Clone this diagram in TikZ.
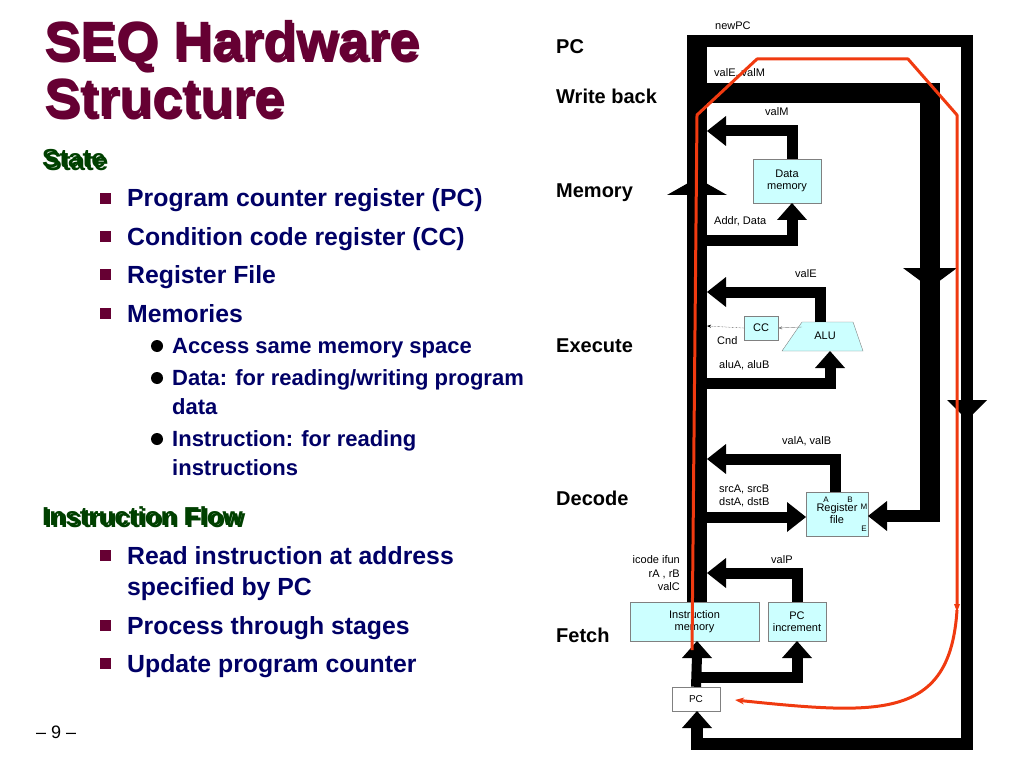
\documentclass[tikz,border=0pt]{standalone}
\usepackage{fontspec}
\setmainfont{Liberation Sans}
\usepackage{tikz}
\usetikzlibrary{arrows.meta}
\definecolor{maroon}{HTML}{660033}
\definecolor{stategreen}{HTML}{004000}
\definecolor{itemblue}{HTML}{000066}
\definecolor{boxcyan}{HTML}{CCFFFF}
\definecolor{flowred}{HTML}{F03A10}
\tikzset{
  bus/.style={line width=11, miter limit=10},
  box/.style={draw=gray, fill=boxcyan, inner sep=0pt, align=center, font=\fontsize{11}{12}\selectfont},
  sig/.style={font=\fontsize{11}{12}\selectfont, inner sep=0pt, anchor=base west},
  stage/.style={font=\fontsize{20}{22}\selectfont\bfseries, inner sep=0pt, anchor=base west},
  item/.style={font=\fontsize{24.8}{26}\selectfont\bfseries, text=itemblue, inner sep=0pt, anchor=base west},
  subitem/.style={font=\fontsize{22}{24}\selectfont\bfseries, text=itemblue, inner sep=0pt, anchor=base west},
}
\newcommand{\headL}[2]{\fill (#1,#2) -- ++(19,-15) -- ++(0,30) -- cycle;}
\newcommand{\headR}[2]{\fill (#1,#2) -- ++(-19,-15) -- ++(0,30) -- cycle;}
\newcommand{\headU}[3]{\fill (#1,#2) -- ++(-#3,17) -- ++(2*#3,0) -- cycle;}
\newcommand{\headD}[3]{\fill (#1,#2) -- ++(-#3,-20) -- ++(2*#3,0) -- cycle;}
\newcommand{\shadowed}[4]{%
  \node[anchor=base west, inner sep=0pt, text=gray!45, font=#2] at (#3+2.5,#4+2.5) {#1};
  \node[anchor=base west, inner sep=0pt, font=#2] at (#3,#4) {#1};}

\begin{document}
\begin{tikzpicture}[x=1pt, y=-1pt]
  \useasboundingbox (0,0) rectangle (1024,767);

  % left column: title and bullet list
  \shadowed{\color{maroon}SEQ Hardware}{\fontsize{54}{54}\selectfont\bfseries}{44}{60}
  \shadowed{\color{maroon}Structure}{\fontsize{54}{54}\selectfont\bfseries}{44}{117}
  \shadowed{\color{stategreen}State}{\fontsize{26}{28}\selectfont\bfseries}{42}{168}
  \shadowed{\color{stategreen}Instruction Flow}{\fontsize{26}{28}\selectfont\bfseries}{42}{525}
  \foreach \y/\t in {207/Program counter register (PC), 245/Condition code register (CC),
                     283/Register File, 322/Memories, 564/Read instruction at address,
                     634/Process through stages, 672/Update program counter} {
    \fill[maroon] (100,\y-14) rectangle ++(11,11);
    \node[item] at (127,\y) {\t};
  }
  \node[item] at (127,595) {specified by PC};
  \foreach \y/\t in {353/{Access same memory space}, 385/{Data: for reading/writing program},
                     446/{Instruction: for reading}} {
    \fill[black] (157,\y-7) circle (6);
    \node[subitem] at (172,\y) {\t};
  }
  \node[subitem] at (172,414) {data};
  \node[subitem] at (172,475) {instructions};
  \node[anchor=base west, inner sep=0pt, font=\fontsize{18}{20}\selectfont] (page) at (36,738) {-- 9 --};

  % stage names
  \node[stage] (sPC) at (556,54) {PC};
  \node[stage] (sWB) at (556,104) {Write back};
  \node[stage] (sMem) at (556,198) {Memory};
  \node[stage] (sEx) at (556,352) {Execute};
  \node[stage] (sDec) at (556,505) {Decode};
  \node[stage] (sFe) at (556,642) {Fetch};

  % units
  \node[box, minimum width=68, minimum height=44] (dmem) at (787,181) {Data\\memory};
  \node[box, minimum width=34, minimum height=24] (cc) at (761,328) {CC};
  \draw[gray, fill=boxcyan] (802,322) -- (853,322) -- (863,351) -- (782,351) -- cycle;
  \node[font=\fontsize{11}{12}\selectfont] (alu) at (825,336) {ALU};
  \node[box, minimum width=62, minimum height=44] (regf) at (837,514) {Register\\file};
  \node[box, minimum width=129, minimum height=39] (imem) at (694.5,621.5) {Instruction\\memory};
  \node[box, minimum width=58, minimum height=39] (pcinc) at (797,621.5) {PC\\increment};
  \node[draw=gray, fill=white, minimum width=48, minimum height=24, inner sep=0pt, font=\fontsize{10}{12}\selectfont] (pc) at (696,699) {PC};
  \foreach \p/\l in {{(826,500)}/A, {(850,500)}/B, {(864,507)}/M, {(864,529)}/E}
    \node[font=\fontsize{8}{9}\selectfont, inner sep=0pt] at \p {\l};

  % buses
  \draw[line width=20] (697,35) -- (697,602);
  \draw[line width=12, miter limit=10] (697,41) -- (967,41) -- (967,744) -- (697,744) -- (697,728);
  \draw[line width=20, miter limit=10] (707,93) -- (930,93) -- (930,522);
  \draw[line width=12] (936,516) -- (885,516);
  \draw[bus] (792,159) -- (792,131) -- (724,131);
  \draw[bus] (707,240) -- (792,240) -- (792,220);
  \draw[bus] (820,322) -- (820,292) -- (724,292);
  \draw[bus] (707,383) -- (830,383) -- (830,366);
  \draw[bus] (835,492) -- (835,459) -- (724,459);
  \draw[bus] (707,517) -- (789,517);
  \draw[bus] (797,602) -- (797,573) -- (724,573);
  \draw[line width=10] (pc.north) -- (697,656);
  \draw[line width=11, miter limit=10] (697,677) -- (797,677) -- (797,656);
  \headL{707}{131} \headL{707}{292} \headL{707}{459} \headL{707}{573}
  \headR{806}{517} \headL{868}{516}
  \headU{792}{203}{15} \headU{830}{351}{15} \headU{697}{641}{15} \headU{797}{641}{15}
  \headU{697}{711}{15}
  \headU{697}{178}{30}
  \headD{930}{288}{27} \headD{967}{420}{20}
  \draw[densely dotted, -{Stealth[length=4]}] (cc.west) -- (707,326);
  \draw[gray, -{Stealth[length=4]}] (802,327) -- (cc.east);

  % signal names
  \node[sig] at (715,30) {newPC};
  \node[sig] at (714,77) {valE, valM};
  \node[sig] at (765,116) {valM};
  \node[sig] at (714,225) {Addr, Data};
  \node[sig] at (795,277) {valE};
  \node[sig] at (717,344) {Cnd};
  \node[sig] at (719,368) {aluA, aluB};
  \node[sig] at (782,444) {valA, valB};
  \node[sig] at (719,492) {srcA, srcB};
  \node[sig] at (719,505) {dstA, dstB};
  \node[sig] at (771,563) {valP};
  \node[sig, anchor=base east] at (680,563) {icode ifun};
  \node[sig, anchor=base east] at (680,577) {rA , rB};
  \node[sig, anchor=base east] at (680,590) {valC};

  % flow
  \draw[flowred, line width=3, line join=round] (692,650) -- (697,115) -- (757,59) -- (908,59)
    -- (957,115) -- (957,604);
  \draw[flowred, line width=3, -{Stealth[length=9]}] (957,610) .. controls (950,720) and (880,715) .. (735,700);
  \fill[flowred] (957,612) -- ++(-3,-8) -- ++(6,0) -- cycle;
\end{tikzpicture}
\end{document}
